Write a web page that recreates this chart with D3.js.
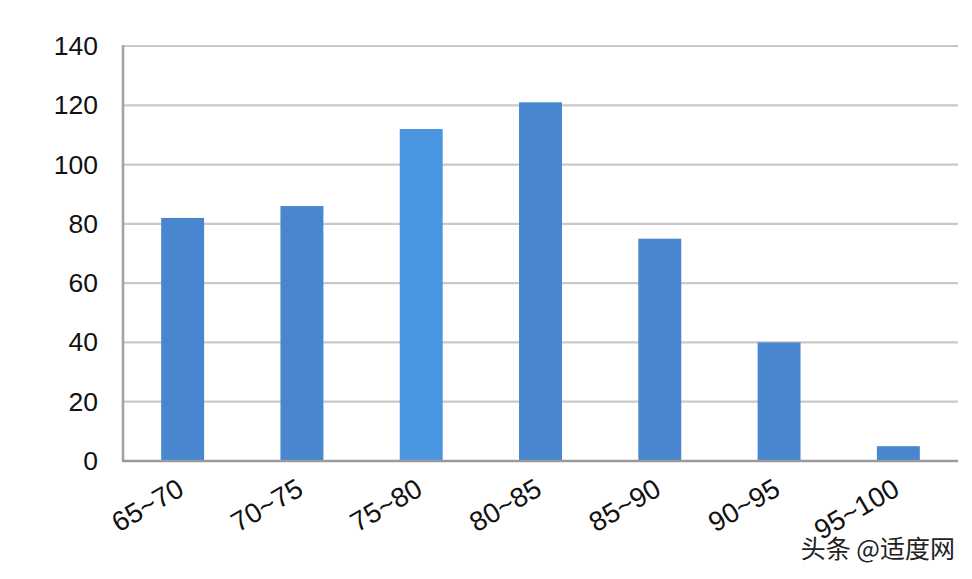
<!DOCTYPE html>
<html>
<head>
<meta charset="utf-8">
<script src="https://cdn.jsdelivr.net/npm/d3@7"></script>
<style>
  html, body { margin: 0; padding: 0; background: #ffffff; }
  svg { display: block; }
</style>
</head>
<body>
<svg id="chart" width="972" height="579"></svg>
<script>
// ---- data ----
const categories = ["65~70", "70~75", "75~80", "80~85", "85~90", "90~95", "95~100"];
const counts = [82, 86, 112, 121, 75, 40, 5];
const yTicks = [0, 20, 40, 60, 80, 100, 120, 140];
const watermark = "头条 @适度网";

// ---- layout / style ----
const W = 972, H = 579;
const plotLeft = 123, plotRight = 958, plotTop = 46, plotBottom = 461;
const barColor = "#4886cf";
const highlightCat = "75~80";
const highlightColor = "#4b96e1";
const font = "'Liberation Sans', Arial, Helvetica, sans-serif";

const svg = d3.select("#chart");

const x = d3.scaleBand().domain(categories).range([plotLeft, plotRight])
  .paddingInner(0.64).paddingOuter(0.32);
const y = d3.scaleLinear().domain([0, 140]).range([plotBottom, plotTop]);

// gridlines
svg.append("g").selectAll("line").data(yTicks.filter(d => d > 0)).join("line")
  .attr("x1", plotLeft).attr("x2", plotRight)
  .attr("y1", d => y(d)).attr("y2", d => y(d))
  .attr("stroke", "#c9c9c9").attr("stroke-width", 2.2);

// bars
svg.append("g").selectAll("rect").data(categories).join("rect")
  .attr("x", d => x(d))
  .attr("width", x.bandwidth())
  .attr("y", (d, i) => y(counts[i]))
  .attr("height", (d, i) => y(0) - y(counts[i]))
  .attr("fill", d => d === highlightCat ? highlightColor : barColor);

// axes lines
svg.append("line").attr("x1", plotLeft).attr("x2", plotLeft).attr("y1", plotTop - 1).attr("y2", plotBottom)
  .attr("stroke", "#a3a3a3").attr("stroke-width", 2.6);
svg.append("line").attr("x1", plotLeft - 1).attr("x2", plotRight).attr("y1", plotBottom).attr("y2", plotBottom)
  .attr("stroke", "#9a9a9a").attr("stroke-width", 2.6);

// y labels
svg.append("g").selectAll("text").data(yTicks).join("text")
  .attr("x", 98).attr("y", d => y(d) + 9)
  .attr("text-anchor", "end")
  .attr("font-family", font).attr("font-size", 26.5).attr("fill", "#111")
  .text(d => d);

// x labels
svg.append("g").selectAll("text").data(categories).join("text")
  .attr("transform", d => `translate(${x(d) + x.bandwidth() / 2 + 3},${plotBottom + 33}) rotate(-30)`)
  .attr("text-anchor", "end")
  .attr("font-family", font).attr("font-size", 27.5).attr("fill", "#111")
  .text(d => d);

// watermark
svg.append("text")
  .attr("x", 955).attr("y", 558)
  .attr("text-anchor", "end")
  .attr("font-family", "'Noto Sans CJK SC', sans-serif").attr("font-size", 25)
  .attr("fill", "#222").attr("stroke", "#ffffff").attr("stroke-width", 2.5)
  .attr("paint-order", "stroke")
  .text(watermark);
</script>
</body>
</html>
